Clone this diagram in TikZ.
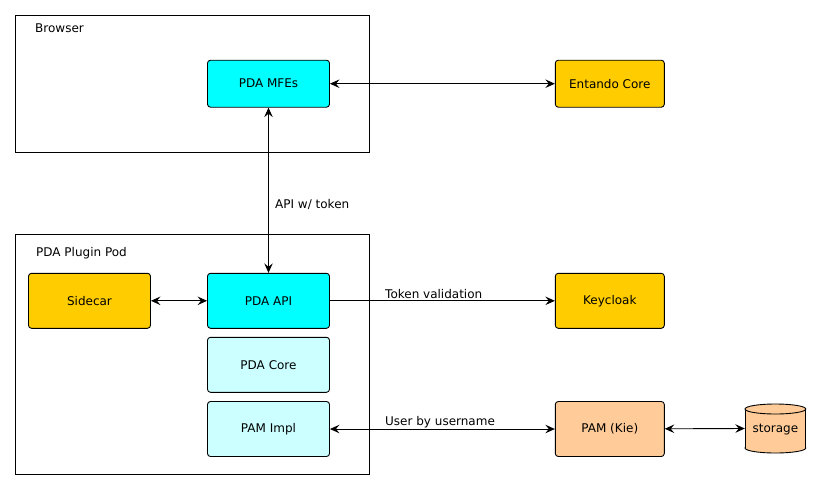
\documentclass[tikz,border=0pt]{standalone}
\usepackage{fontspec}
\setmainfont{DejaVu Sans}
\usetikzlibrary{arrows.meta}
\definecolor{cyanbox}{HTML}{00FFFF}
\definecolor{lcyan}{HTML}{CCFFFF}
\definecolor{gold}{HTML}{FFCC00}
\definecolor{peach}{HTML}{FFCC99}
\definecolor{edge}{HTML}{000000}
\tikzset{
  box/.style={draw=edge, line width=0.9pt, rounded corners=3pt, minimum width=122pt, minimum height=55pt, inner sep=0pt, font=\fontsize{12}{14}\selectfont},
  smallbox/.style={box, minimum width=109pt},
  frame/.style={draw=black, line width=1pt, inner sep=0pt},
  lbl/.style={anchor=west, inner sep=0pt, font=\fontsize{12}{14}\selectfont},
  conn/.style={line width=0.9pt, -{Stealth[length=9.5pt,width=8.5pt,inset=3.5pt]}},
  bconn/.style={line width=0.9pt, {Stealth[length=9.5pt,width=8.5pt,inset=3.5pt]}-{Stealth[length=9.5pt,width=8.5pt,inset=3.5pt]}},
}
\begin{document}
\begin{tikzpicture}[x=1pt,y=-1pt]
\useasboundingbox (0,0) rectangle (821,490);
% frames
\node[frame, minimum width=354pt, minimum height=137.5pt] (browser) at (192.5,83.8) {};
\node[frame, minimum width=354pt, minimum height=240pt] (pod) at (192.5,354.3) {};
\node[lbl] (browserlbl) at (35,28.5) {Browser};
\node[lbl] (podlbl) at (36,253.5) {PDA Plugin Pod};
% boxes
\node[box, fill=cyanbox, minimum height=47pt] (mfe) at (268.5,83.7) {PDA MFEs};
\node[smallbox, fill=gold, minimum height=47pt] (entando) at (609.8,83.7) {Entando Core};
\node[box, fill=gold] (sidecar) at (89.5,300.8) {Sidecar};
\node[box, fill=cyanbox] (api) at (268.5,300.8) {PDA API};
\node[box, fill=lcyan] (core) at (268.5,364.8) {PDA Core};
\node[box, fill=lcyan] (pamimpl) at (268.5,429) {PAM Impl};
\node[smallbox, fill=gold] (keycloak) at (609.8,300.8) {Keycloak};
\node[smallbox, fill=peach] (pamkie) at (609.8,429) {PAM (Kie)};
% storage cylinder
\node[minimum width=60.8pt, minimum height=49pt, inner sep=0pt] (storage) at (775.4,428.5) {};
\filldraw[fill=peach, draw=edge, line width=0.9pt] (775.4,448) ellipse [x radius=30.4pt, y radius=5pt];
\fill[peach] (745,409) rectangle (805.8,448);
\draw[edge, line width=0.9pt] (745,409) -- (745,448) (805.8,409) -- (805.8,448);
\filldraw[fill=peach, draw=edge, line width=0.9pt] (775.4,409) ellipse [x radius=30.4pt, y radius=5pt];
\node[font=\fontsize{12}{14}\selectfont, inner sep=0pt] (storagelbl) at (775.4,429.5) {storage};
% connectors
\draw[bconn] (mfe) -- (entando);
\draw[bconn] (mfe) -- (api);
\draw[bconn] (sidecar) -- (api);
\draw[conn] (api) -- (keycloak);
\draw[bconn] (pamimpl) -- (pamkie);
\draw[bconn] (pamkie) -- (storage.west);
% labels
\node[lbl] (apilbl) at (275,204.5) {API w/ token};
\node[lbl] (toklbl) at (385,293.8) {Token validation};
\node[lbl] (userlbl) at (385,422) {User by username};
\end{tikzpicture}
\end{document}
